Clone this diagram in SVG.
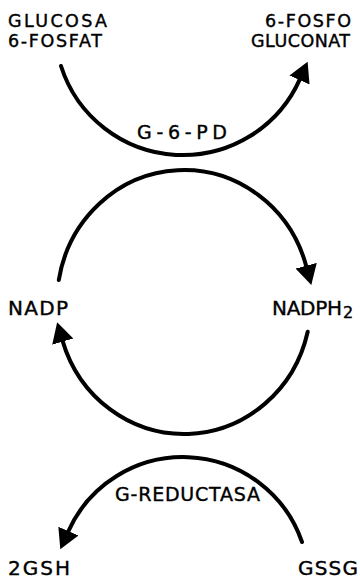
<svg xmlns="http://www.w3.org/2000/svg" width="360" height="579" viewBox="0 0 360 579">
<style>
.t{font-family:"DejaVu Sans","Liberation Sans",Arial,sans-serif;fill:#000;stroke:#000;stroke-width:0.4;}
.c{fill:none;stroke:#000;stroke-width:4;stroke-linecap:round;}
</style>
<defs>
<marker id="ah" markerUnits="userSpaceOnUse" viewBox="0 -12 22 24" markerWidth="22" markerHeight="24" refX="1" refY="0" orient="auto">
<path d="M0,-11 L20,0 L0,11 Z" fill="#000"/>
</marker>
</defs>
<rect width="360" height="579" fill="#fff"/>
<g id="connectors">
<path id="g6pd-arc" class="c" d="M61,66 A128,128 0 0 0 299.9,79.1" marker-end="url(#ah)"/>
<path id="nadp-to-nadph2" class="c" d="M58.8,280 A127,132 0 0 1 306.4,266.7" marker-end="url(#ah)"/>
<path id="nadph2-to-nadp" class="c" d="M307.7,331.7 A127,132 0 0 1 62.5,340.6" marker-end="url(#ah)"/>
<path id="gred-arc" class="c" d="M302,542 A125.8,125.8 0 0 0 68,532" marker-end="url(#ah)"/>
</g>
<g id="glucosa6fosfat">
<text class="t" font-size="17.5"><tspan x="8" y="27" textLength="99" lengthAdjust="spacing">GLUCOSA</tspan><tspan x="8" y="46.5" textLength="94" lengthAdjust="spacing">6-FOSFAT</tspan></text>
</g>
<g id="fosfogluconat">
<text class="t" font-size="17.5"><tspan x="265" y="27" textLength="86" lengthAdjust="spacing">6-FOSFO</tspan><tspan x="251" y="46.5" textLength="99" lengthAdjust="spacing">GLUCONAT</tspan></text>
</g>
<g id="g6pd">
<text class="t" x="137" y="138.5" font-size="19" textLength="90" lengthAdjust="spacing">G-6-PD</text>
</g>
<g id="nadp">
<text class="t" x="8" y="315" font-size="20" textLength="60" lengthAdjust="spacing">NADP</text>
</g>
<g id="nadph2">
<text class="t" x="272" y="314.5" font-size="20" textLength="70" lengthAdjust="spacing">NADPH</text>
<text class="t" x="343" y="318" font-size="16">2</text>
</g>
<g id="greductasa">
<text class="t" x="115" y="500.5" font-size="19" textLength="145" lengthAdjust="spacing">G-REDUCTASA</text>
</g>
<g id="gsh">
<text class="t" x="8" y="575" font-size="20" textLength="62" lengthAdjust="spacing">2GSH</text>
</g>
<g id="gssg">
<text class="t" x="298" y="575" font-size="20" textLength="60" lengthAdjust="spacing">GSSG</text>
</g>
</svg>
